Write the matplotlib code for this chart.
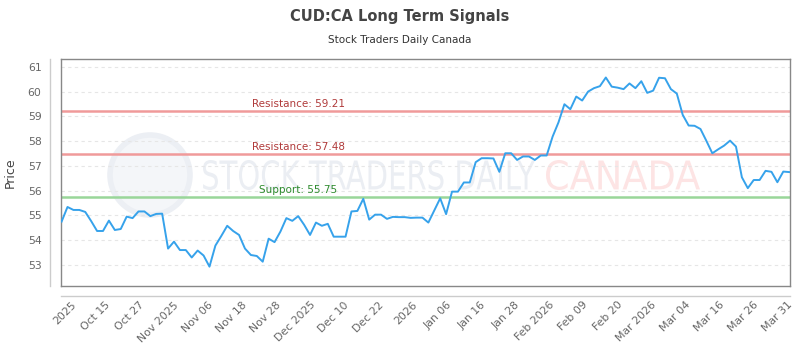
import numpy as np
import matplotlib
matplotlib.use("Agg")
import matplotlib.pyplot as plt
from matplotlib.lines import Line2D
from matplotlib.patches import Ellipse, PathPatch
from matplotlib.textpath import TextPath
from matplotlib.transforms import Affine2D

# closing prices, one per trading day
prices = [
    54.75, 55.34, 55.22, 55.22, 55.14, 54.77, 54.37, 54.37, 54.79, 54.41,
    54.45, 54.95, 54.89, 55.16, 55.16, 54.97, 55.06, 55.07, 53.66, 53.94,
    53.60, 53.60, 53.30, 53.58, 53.38, 52.93, 53.78, 54.17, 54.58, 54.37,
    54.21, 53.66, 53.40, 53.36, 53.13, 54.06, 53.92, 54.35, 54.89, 54.78,
    54.97, 54.62, 54.21, 54.71, 54.58, 54.66, 54.14, 54.14, 54.14, 55.16,
    55.18, 55.67, 54.83, 55.03, 55.03, 54.86, 54.94, 54.93, 54.93, 54.90,
    54.91, 54.91, 54.71, 55.20, 55.69, 55.05, 55.96, 55.96, 56.33, 56.33,
    57.15, 57.31, 57.31, 57.30, 56.76, 57.51, 57.51, 57.24, 57.38, 57.38,
    57.24, 57.42, 57.42, 58.18, 58.76, 59.49, 59.29, 59.80, 59.64, 60.00,
    60.14, 60.22, 60.57, 60.20, 60.16, 60.10, 60.33, 60.14, 60.42, 59.95,
    60.04, 60.56, 60.54, 60.10, 59.92, 59.06, 58.63, 58.62, 58.49, 58.01,
    57.51, 57.67, 57.82, 58.02, 57.78, 56.54, 56.10, 56.43, 56.43, 56.80,
    56.76, 56.34, 56.77, 56.75,
]
tick_labels = [
    "2025", "Oct 15", "Oct 27", "Nov 2025", "Nov 06", "Nov 18", "Nov 28",
    "Dec 2025", "Dec 10", "Dec 22", "2026", "Jan 06", "Jan 16", "Jan 28",
    "Feb 2026", "Feb 09", "Feb 20", "Mar 2026", "Mar 04", "Mar 16",
    "Mar 26", "Mar 31",
]
resistance = [59.21, 57.48]
support = [55.75]

plt.rcParams["font.family"] = ["DejaVu Sans"]
fig = plt.figure(figsize=(8, 3.5), dpi=100)
ax = fig.add_axes([0.07625, 0.183, 0.911, 0.6486])

x = np.arange(len(prices))


def watermark(txt, x0, x1, y0, y1, color):
    # squeeze a text path into a pixel box (condensed look)
    tp = TextPath((0, 0), txt, size=40)
    bb = tp.get_extents()
    tr = Affine2D().translate(-bb.x0, -bb.y0).scale((x1 - x0) / bb.width, (y1 - y0) / bb.height)
    tr = tr.translate(x0, 350 - y1)
    ax.add_artist(PathPatch(tr.transform_path(tp), facecolor=color, edgecolor="none",
                            transform=Affine2D(), zorder=0.2))


# faint watermark, under everything in the axes
ax.add_artist(Ellipse((150 / 800, 1 - 175 / 350), 80 / 800, 80 / 350,
                      transform=fig.transFigure, facecolor="#f4f6f9",
                      edgecolor="#eceff4", lw=4, zorder=0.2))
watermark("STOCK TRADERS DAILY", 203, 535, 160, 190, "#ebeef3")
watermark("CANADA", 546, 700, 160, 190, "#fde4e4")

ax.plot(x, prices, color="#36a2eb", lw=1.4, zorder=3)

for lvl in resistance:
    ax.axhline(lvl, color="#f09a9a", lw=1.8, zorder=2)
    ax.text(40, lvl + 0.08, "Resistance: %.2f" % lvl, color="#b03a3a",
            fontsize=7.5, ha="center", va="bottom", zorder=4)
for lvl in support:
    ax.axhline(lvl, color="#99d699", lw=1.8, zorder=2)
    ax.text(40, lvl + 0.08, "Support: %.2f" % lvl, color="#2e8b2e",
            fontsize=7.5, ha="center", va="bottom", zorder=4)

ax.set_xlim(-0.1, len(prices) - 0.9)
ax.set_ylim(52.15, 61.32)
ax.set_yticks(range(53, 62))
ax.yaxis.grid(True, color="#e6e6e6", ls=(0, (3, 3)), lw=0.8, zorder=1)
ax.set_axisbelow(True)

ax.set_xticks(np.linspace(1.6, len(prices) - 1.3, len(tick_labels)))
ax.set_xticklabels(tick_labels, rotation=45, ha="right", rotation_mode="anchor")
ax.tick_params(axis="both", length=0, labelsize=7.8, labelcolor="#666666")
ax.tick_params(axis="y", pad=14)
ax.tick_params(axis="x", pad=10)

for s in ax.spines.values():
    s.set_color("#888888")
    s.set_linewidth(1)

# detached axis lines
ax.add_artist(Line2D([-11 / 729, -11 / 729], [0, 1], transform=ax.transAxes,
                     color="#cccccc", lw=1, clip_on=False))
ax.add_artist(Line2D([0, 1], [-10 / 227, -10 / 227], transform=ax.transAxes,
                     color="#cccccc", lw=1, clip_on=False))

ax.set_ylabel("Price", fontsize=9, color="#444444", labelpad=8)

fig.text(0.5, 1 - 16 / 350, "CUD:CA Long Term Signals", ha="center", va="center",
         fontsize=10.5, fontweight="bold", color="#444444")
fig.text(0.5, 1 - 40 / 350, "Stock Traders Daily Canada", ha="center", va="center",
         fontsize=7.5, color="#333333")

fig.savefig("out.png", dpi=100)
